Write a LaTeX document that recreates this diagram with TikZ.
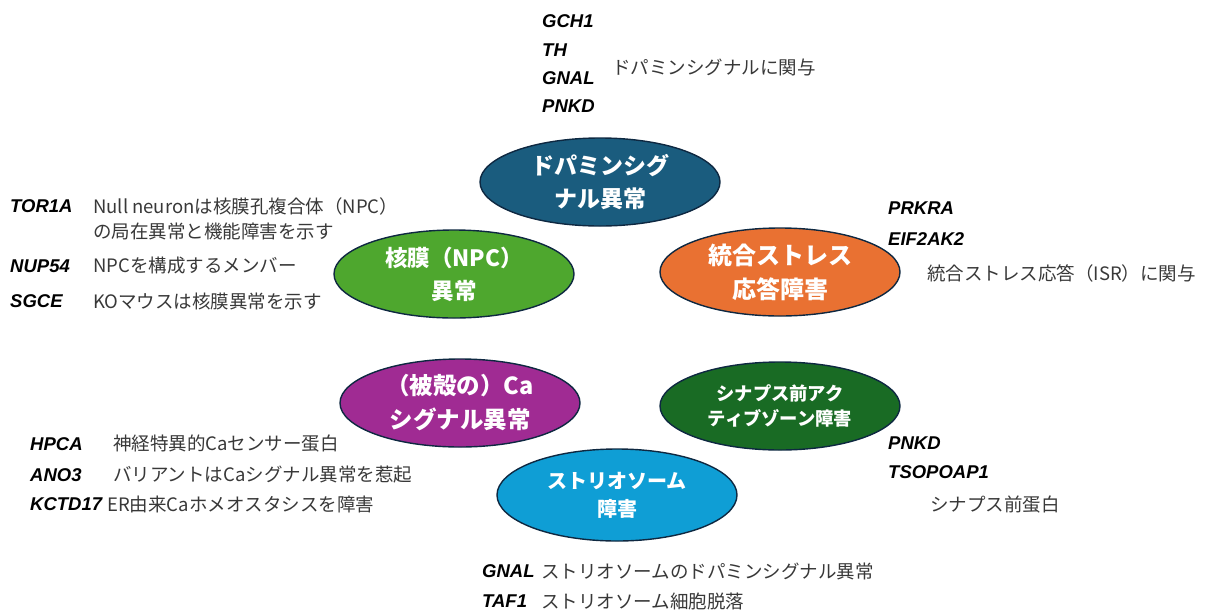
\documentclass[tikz,border=0pt]{standalone}
\usepackage{fontspec}
\setmainfont{Liberation Sans}
\newfontfamily\jp{Noto Sans CJK JP}
\usetikzlibrary{shapes.geometric}
\definecolor{edge}{HTML}{0E2841}
\definecolor{cdopa}{HTML}{1A5C7E}
\definecolor{cnpc}{HTML}{4EA72E}
\definecolor{cisr}{HTML}{E97132}
\definecolor{cca}{HTML}{A02B93}
\definecolor{csyn}{HTML}{196B24}
\definecolor{cstr}{HTML}{0F9ED5}
\definecolor{desccol}{HTML}{383838}
\begin{document}
\begin{tikzpicture}[x=1pt,y=-1pt,
  blob/.style={ellipse, draw=edge, line width=1.4pt, inner sep=0pt, text=white, align=center,
    minimum width=240, minimum height=88},
  gene/.style={anchor=west, inner sep=0pt, font=\bfseries\itshape\fontsize{18.5}{22}\selectfont},
  desc/.style={anchor=west, inner sep=0pt, text=desccol, font=\jp\fontsize{18.5}{24}\selectfont}]
\useasboundingbox (0,0) rectangle (1208,614);

% ellipses
\node[blob, fill=cdopa, font=\jp\bfseries\fontsize{23}{33}\selectfont] (dopa) at (600,182) {ドパミンシグ\\ナル異常};
\node[blob, fill=cnpc, font=\jp\bfseries\fontsize{22.5}{33}\selectfont] (npc) at (454,274) {核膜（NPC）\\異常};
\node[blob, fill=cisr, font=\jp\bfseries\fontsize{24}{34}\selectfont] (isr) at (780,272) {統合ストレス\\応答障害};
\node[blob, fill=cca, font=\jp\bfseries\fontsize{23.5}{34}\selectfont] (ca) at (460,403) {（被殻の）Ca\\シグナル異常};
\node[blob, fill=csyn, font=\jp\bfseries\fontsize{18.3}{25.5}\selectfont] (syn) at (780,406) {シナプス前アク\\ティブゾーン障害};
\node[blob, fill=cstr, minimum height=92, font=\jp\bfseries\fontsize{20}{28}\selectfont] (str) at (617,495) {ストリオソーム\\障害};

% dopamine genes
\node[gene] (g1) at (542,21) {GCH1};
\node[gene] (g2) at (542,50) {TH};
\node[gene] (g3) at (542,78) {GNAL};
\node[gene] (g4) at (542,106) {PNKD};
\node[desc] (d1) at (612,67) {ドパミンシグナルに関与};

% NPC genes
\node[gene] (n1) at (10,206) {TOR1A};
\node[desc] (nd1) at (93,206) {Null neuronは核膜孔複合体（NPC）};
\node[desc] (nd1b) at (93,231) {の局在異常と機能障害を示す};
\node[gene] (n2) at (10,266) {NUP54};
\node[desc] (nd2) at (93,266) {NPCを構成するメンバー};
\node[gene] (n3) at (10,301) {SGCE};
\node[desc] (nd3) at (93,301) {KOマウスは核膜異常を示す};

% ISR genes
\node[gene] (i1) at (888,208) {PRKRA};
\node[gene] (i2) at (888,239) {EIF2AK2};
\node[desc] (id) at (927,273) {統合ストレス応答（ISR）に関与};

% Ca genes
\node[gene] (c1) at (30,444) {HPCA};
\node[desc] (cd1) at (113,444) {神経特異的Caセンサー蛋白};
\node[gene] (c2) at (30,475) {ANO3};
\node[desc] (cd2) at (113,475) {バリアントはCaシグナル異常を惹起};
\node[gene] (c3) at (30,504) {KCTD17};
\node[desc] (cd3) at (107,504) {ER由来Caホメオスタシスを障害};

% synapse genes
\node[gene] (s1) at (888,443) {PNKD};
\node[gene] (s2) at (888,472) {TSOPOAP1};
\node[desc] (sd) at (930,505) {シナプス前蛋白};

% striosome genes
\node[gene] (t1) at (482,571) {GNAL};
\node[desc] (td1) at (541,571) {ストリオソームのドパミンシグナル異常};
\node[gene] (t2) at (482,601) {TAF1};
\node[desc] (td2) at (541,601) {ストリオソーム細胞脱落};
\end{tikzpicture}
\end{document}
